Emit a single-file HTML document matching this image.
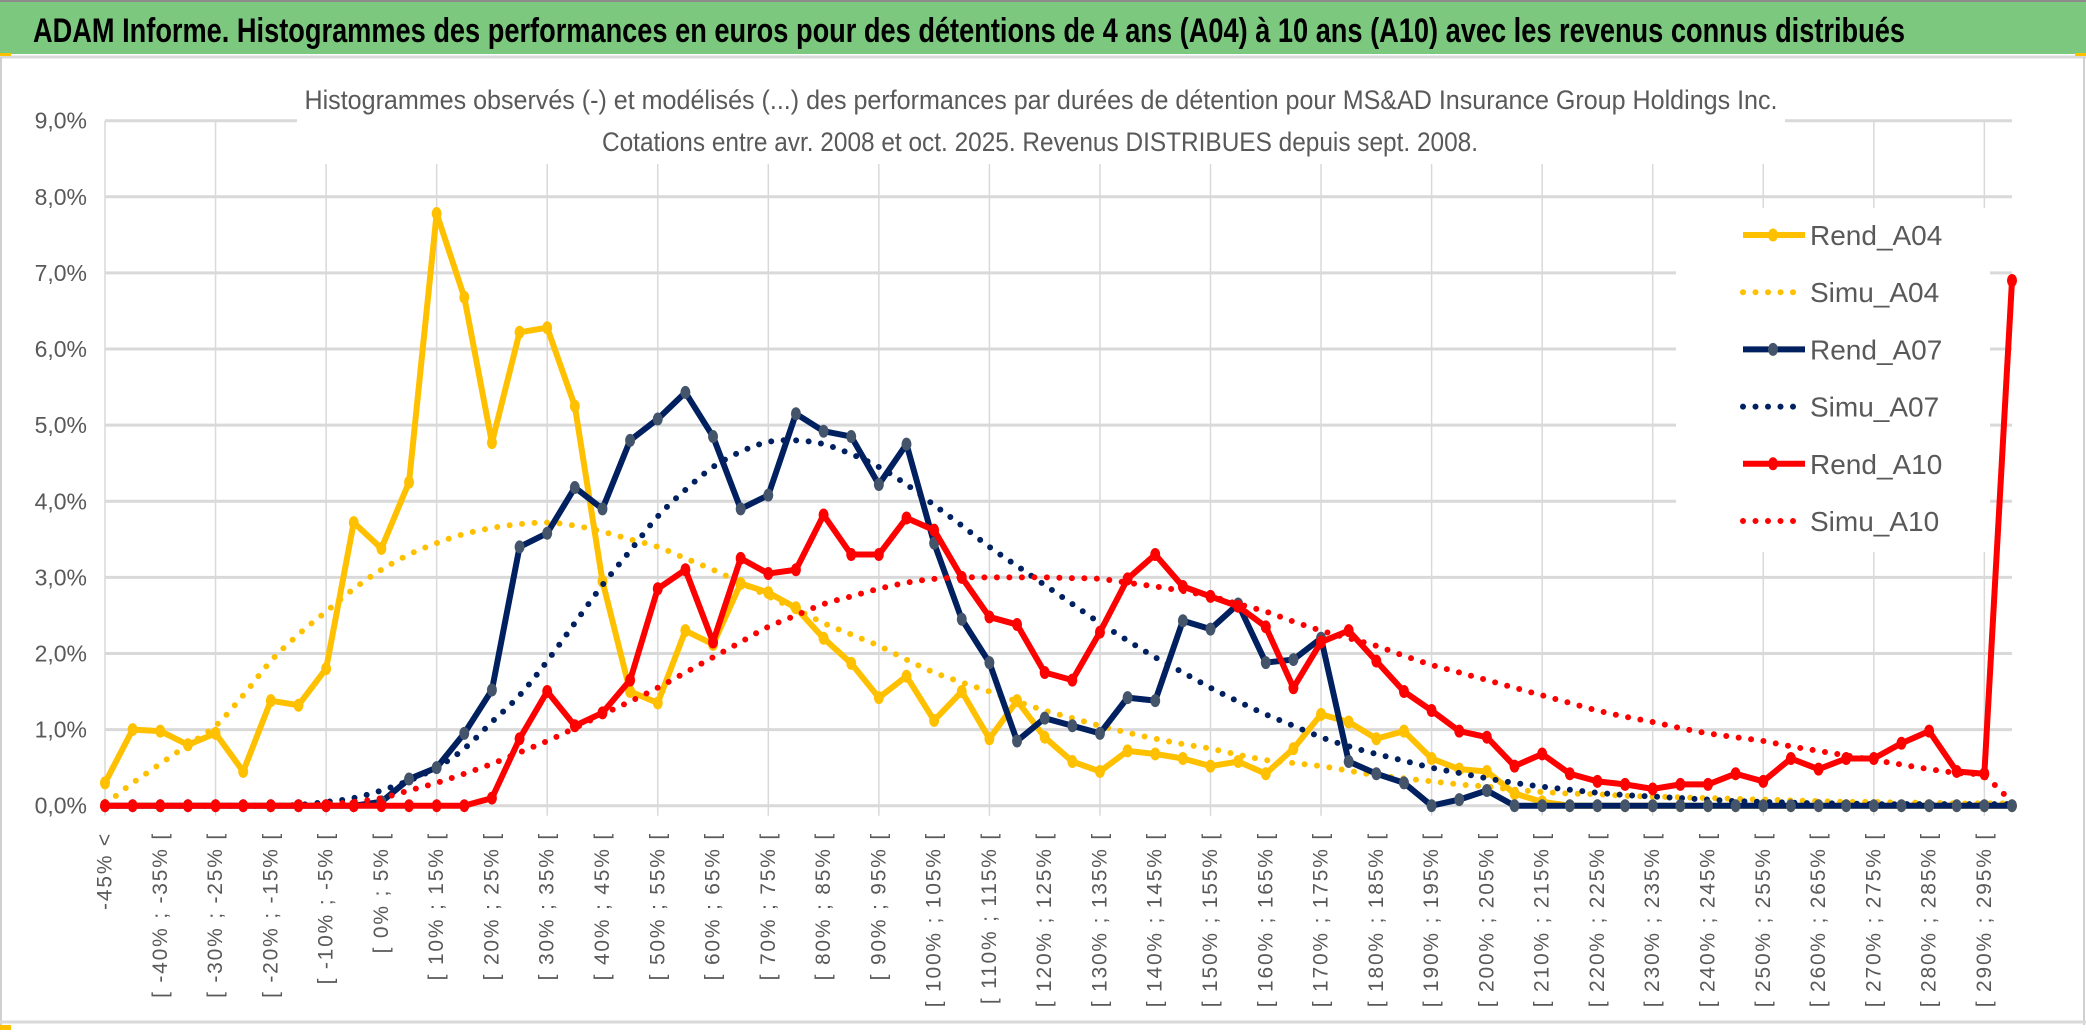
<!DOCTYPE html>
<html><head><meta charset="utf-8"><style>
html,body{margin:0;padding:0;background:#fff;}
svg{display:block;}
text{font-family:"Liberation Sans Narrow","Liberation Sans",sans-serif;}
</style></head><body>
<svg id="chart" width="2086" height="1033" viewBox="0 0 2086 1033" xmlns="http://www.w3.org/2000/svg">
<rect x="0" y="0" width="2086" height="1033" fill="#fff"/>
<rect x="0" y="0" width="2086" height="54" fill="#7dc87f"/>
<line x1="0" y1="1" x2="2086" y2="1" stroke="#8c8c8c" stroke-width="2"/>
<text x="33" y="42" font-size="34" font-weight="bold" fill="#000" textLength="1872" lengthAdjust="spacingAndGlyphs">ADAM Informe. Histogrammes des performances en euros pour des détentions de 4 ans (A04) à 10 ans (A10) avec les revenus connus distribués</text>
<line x1="0" y1="57" x2="2086" y2="57" stroke="#d9d9d9" stroke-width="3"/>
<rect x="0" y="53" width="11" height="3" fill="#ffc000"/>
<rect x="2075" y="53" width="11" height="3" fill="#ffc000"/>
<line x1="1" y1="57" x2="1" y2="1025" stroke="#d0d0d0" stroke-width="2"/>
<line x1="2084" y1="57" x2="2084" y2="1025" stroke="#d0d0d0" stroke-width="2"/>
<line x1="0" y1="1022" x2="2086" y2="1022" stroke="#d9d9d9" stroke-width="3"/>
<rect x="0" y="1025" width="11" height="5" fill="#ffc000"/>
<g id="grid"></g>
<rect x="297" y="80" width="1488" height="84" fill="#fff"/>
<text x="1041" y="109" font-size="27" fill="#595959" text-anchor="middle" textLength="1473" lengthAdjust="spacingAndGlyphs">Histogrammes observés (-) et modélisés (...) des performances par durées de détention pour MS&amp;AD Insurance Group Holdings Inc.</text>
<text x="1040" y="151" font-size="27" fill="#595959" text-anchor="middle" textLength="876" lengthAdjust="spacingAndGlyphs">Cotations entre avr. 2008 et oct. 2025. Revenus DISTRIBUES depuis sept. 2008.</text>
<g id="yaxis"></g>
<g id="xaxis"></g>
<rect x="1676" y="208" width="314" height="344" fill="#fff"/>
<g id="series"></g>
<g id="legend"></g>
</svg>
<script>
const rendA04 = [0.3,1.0,0.98,0.8,0.95,0.45,1.38,1.32,1.8,3.72,3.38,4.25,7.78,6.68,4.77,6.22,6.28,5.25,2.95,1.5,1.35,2.3,2.12,2.92,2.8,2.6,2.2,1.87,1.42,1.7,1.12,1.5,0.88,1.38,0.9,0.58,0.45,0.72,0.68,0.62,0.52,0.58,0.42,0.75,1.2,1.1,0.88,0.98,0.62,0.48,0.45,0.16,0.05,0,0,0,0,0,0,0,0,0,0,0,0,0,0,0,0,0];
const simuA04 = [0.05,0.3,0.55,0.8,1.05,1.45,1.9,2.25,2.55,2.85,3.1,3.3,3.45,3.57,3.65,3.7,3.72,3.68,3.6,3.5,3.4,3.25,3.1,2.93,2.75,2.58,2.4,2.25,2.1,1.92,1.75,1.62,1.5,1.37,1.25,1.15,1.05,0.96,0.88,0.81,0.75,0.67,0.6,0.56,0.52,0.46,0.4,0.36,0.32,0.28,0.25,0.21,0.18,0.16,0.15,0.13,0.12,0.11,0.1,0.09,0.08,0.07,0.06,0.05,0.05,0.04,0.04,0.03,0.03,0.03];
const rendA07 = [0,0,0,0,0,0,0,0,0,0,0.05,0.35,0.5,0.95,1.52,3.4,3.58,4.18,3.9,4.8,5.08,5.43,4.85,3.9,4.08,5.15,4.92,4.85,4.22,4.75,3.45,2.45,1.88,0.85,1.15,1.05,0.95,1.42,1.38,2.43,2.32,2.65,1.88,1.92,2.2,0.58,0.42,0.3,0,0.08,0.2,0,0,0,0,0,0,0,0,0,0,0,0,0,0,0,0,0,0,0];
const simuA07 = [0,0,0,0,0,0,0,0.01,0.05,0.1,0.2,0.33,0.5,0.75,1.1,1.45,1.9,2.4,2.9,3.35,3.8,4.15,4.45,4.65,4.78,4.8,4.75,4.62,4.45,4.22,3.95,3.68,3.4,3.15,2.9,2.65,2.4,2.17,1.95,1.75,1.55,1.37,1.2,1.05,0.9,0.78,0.68,0.59,0.5,0.43,0.36,0.3,0.25,0.21,0.17,0.14,0.12,0.1,0.08,0.06,0.05,0.04,0.03,0.03,0.02,0.02,0.02,0.02,0.02,0.02];
const rendA10 = [0,0,0,0,0,0,0,0,0,0,0,0,0,0,0.1,0.88,1.5,1.05,1.22,1.65,2.85,3.1,2.15,3.25,3.05,3.1,3.82,3.3,3.3,3.78,3.62,3.0,2.48,2.38,1.75,1.65,2.28,2.98,3.3,2.88,2.75,2.62,2.35,1.55,2.15,2.3,1.9,1.5,1.25,0.98,0.9,0.52,0.68,0.42,0.32,0.28,0.22,0.28,0.28,0.42,0.32,0.62,0.48,0.62,0.62,0.82,0.98,0.45,0.42,6.9];
const simuA10 = [0,0,0,0,0,0,0,0,0.02,0.05,0.1,0.2,0.3,0.42,0.55,0.7,0.85,1.02,1.2,1.37,1.55,1.75,1.95,2.15,2.35,2.5,2.65,2.75,2.85,2.93,2.98,3.0,3.0,3.0,3.0,2.99,2.98,2.93,2.88,2.82,2.75,2.65,2.55,2.42,2.3,2.2,2.1,1.97,1.85,1.75,1.65,1.55,1.45,1.35,1.25,1.17,1.1,1.02,0.95,0.9,0.85,0.78,0.72,0.66,0.6,0.54,0.48,0.43,0.38,0.08];
const yTicks = ["0,0%","1,0%","2,0%","3,0%","4,0%","5,0%","6,0%","7,0%","8,0%","9,0%"];
const seriesNames = ["Rend_A04","Simu_A04","Rend_A07","Simu_A07","Rend_A10","Simu_A10"];

const NS="http://www.w3.org/2000/svg";
const N = rendA04.length;
const X0=105, X1=2012, Y0=805.7, YTOP=120.7;
function xp(i){return X0+i*(X1-X0)/(N-1);}
function yp(v){return Y0-v*(Y0-YTOP)/9;}
function mk(tag,attrs,parent){const e=document.createElementNS(NS,tag);for(const k in attrs)e.setAttribute(k,attrs[k]);parent.appendChild(e);return e;}
function catLabel(k){if(k===0)return "-45% <";return "[ "+(-50+5*k)+"% ; "+(-45+5*k)+"% [";}

const grid=document.getElementById('grid');
for(let t=0;t<yTicks.length;t++){
  const g=mk('line',{x1:X0,x2:X1,y1:yp(t),y2:yp(t),stroke:'#d9d9d9','stroke-width':3},grid);
  
  
}
for(let i=0;i<N;i+=4){
  const g=mk('line',{x1:xp(i),x2:xp(i),y1:YTOP,y2:Y0+10,stroke:'#d9d9d9','stroke-width':1.5},grid);
  
  
}
const yax=document.getElementById('yaxis');
for(let t=0;t<yTicks.length;t++){
  const tx=mk('text',{x:87,y:yp(t)+8,'font-size':23,fill:'#595959','text-anchor':'end'},yax);
  tx.textContent=yTicks[t];
  
  
}
const xax=document.getElementById('xaxis');
for(let i=0;i<N;i+=2){
  const x=xp(i), y=832;
  const tx=mk('text',{x:x,y:y,'font-size':21,fill:'#595959','text-anchor':'end','dominant-baseline':'central','letter-spacing':'1.8',transform:'rotate(-90 '+x+' '+y+')'},xax);
  tx.style.fontFamily='"Liberation Sans",sans-serif';
  tx.textContent=catLabel(i);
  
  
}

const ser=document.getElementById('series');
function drawSolid(vals,color,mcolor,name){
  const pts=vals.map((v,i)=>xp(i)+','+yp(v)).join(' ');
  const g=mk('g',{},ser);
  
  
  mk('polyline',{points:pts,fill:'none',stroke:color,'stroke-width':6,'stroke-linejoin':'round'},g);
  vals.forEach((v,i)=>{
    const c=mk('ellipse',{cx:xp(i),cy:yp(v),rx:5,ry:6.5,fill:mcolor},g);
    
    
  });
}
function drawDotted(vals,color,name){
  let d='M'+xp(0)+','+yp(vals[0]);
  for(let i=1;i<vals.length;i++){
    const p0=vals[Math.max(i-2,0)],p1=vals[i-1],p2=vals[i],p3=vals[Math.min(i+1,vals.length-1)];
    const xa=xp(i-1),xb=xp(i),dx=(xb-xa);
    const c1y=yp(p1)+(yp(p2)-yp(p0))/6, c2y=yp(p2)-(yp(p3)-yp(p1))/6;
    d+=' C'+(xa+dx/3)+','+c1y+' '+(xb-dx/3)+','+c2y+' '+xb+','+yp(p2);
  }
  const p=mk('path',{d:d,fill:'none',stroke:color,'stroke-width':6,'stroke-linecap':'round','stroke-dasharray':'0 12.5'},ser);
  
  
}
drawDotted(simuA04,'#ffc000','simu-a04-line');
drawSolid(rendA04,'#ffc000','#ffc000','rend-a04-line');
drawDotted(simuA07,'#002060','simu-a07-line');
drawSolid(rendA07,'#002060','#44546a','rend-a07-line');
drawDotted(simuA10,'#ff0000','simu-a10-line');
drawSolid(rendA10,'#ff0000','#ff0000','rend-a10-line');

const leg=document.getElementById('legend');
const legColors=['#ffc000','#ffc000','#002060','#002060','#ff0000','#ff0000'];
const legMarker=['#ffc000',null,'#44546a',null,'#ff0000',null];
for(let k=0;k<seriesNames.length;k++){
  const y=235+k*57.2;
  const g=mk('g',{},leg);
  
  
  if(legMarker[k]){
    mk('line',{x1:1743,x2:1805,y1:y,y2:y,stroke:legColors[k],'stroke-width':6},g);
    mk('ellipse',{cx:1773,cy:y,rx:5,ry:6.5,fill:legMarker[k]},g);
  } else {
    mk('line',{x1:1743,x2:1795,y1:y,y2:y,stroke:legColors[k],'stroke-width':6,'stroke-linecap':'round','stroke-dasharray':'0 12.5'},g);
  }
  const tx=mk('text',{x:1810,y:y+10,'font-size':28,fill:'#595959'},g);
  tx.textContent=seriesNames[k];
}
</script>
</body></html>
